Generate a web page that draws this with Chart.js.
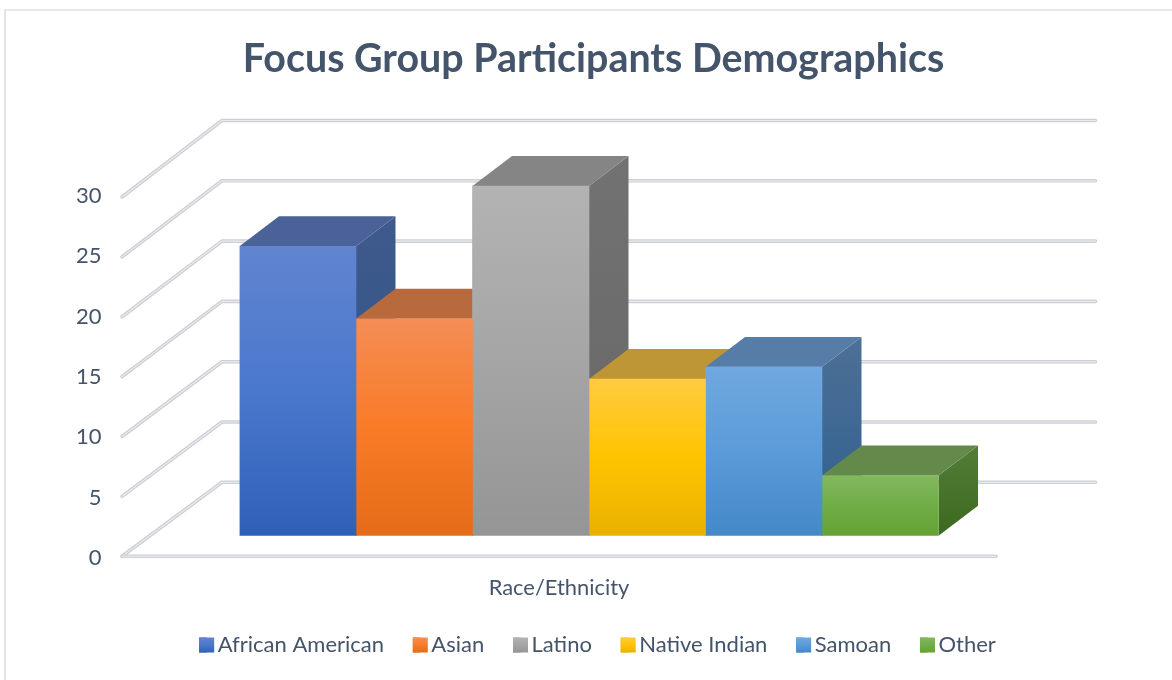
<!DOCTYPE html>
<html>
<head>
<meta charset="utf-8">
<title>Focus Group Participants Demographics</title>
<script src="https://cdn.jsdelivr.net/npm/chart.js@4"></script>
<style>
  html, body { margin: 0; padding: 0; background: #fff; overflow: hidden; }
  #frame { position: absolute; left: 4px; top: 9px; width: 1200px; height: 700px;
           border-left: 2px solid #e1e4ee; border-top: 2px solid #e6e8f0; pointer-events: none; }
  canvas { display: block; }
</style>
</head>
<body>
<canvas id="chart" width="1172" height="680"></canvas>
<div id="frame"></div>
<script>
// Data
const categories = ['Race/Ethnicity'];
const seriesNames = ['African American', 'Asian', 'Latino', 'Native Indian', 'Samoan', 'Other'];
const seriesValues = [24, 18, 29, 13, 14, 5];
const valueTicks = [0, 5, 10, 15, 20, 25, 30];

// Colours: front face gradient (top, middle, bottom), top face, side face (top, bottom)
const frontColors = [
  ['#6184d0', '#4a78cd', '#2f60b8'],
  ['#f48d55', '#f97b27', '#e46c18'],
  ['#b3b3b3', '#a5a5a5', '#959595'],
  ['#ffcb40', '#ffc400', '#e9b100'],
  ['#70a8e0', '#5b9bd9', '#4488c8'],
  ['#82b85e', '#70ad47', '#64a233']
];
const topColors = ['#4a6298', '#b86a3d', '#858585', '#bf9635', '#557da8', '#638a4a'];
const sideColors = [
  ['#3f5a8c', '#2f5288'],
  ['#a85a2c', '#9a4f20'],
  ['#727272', '#666666'],
  ['#a8842a', '#97761c'],
  ['#4d7096', '#2e5f90'],
  ['#527d37', '#3c691f']
];
const textColor = '#44546a';
const bodyFont = 'Lato, sans-serif';

// 3D look: offsets from the bar plane
const BAR_DEPTH = { x: 39.5, y: -30 };
const GRID_FRONT = { x: -117.5, y: 20.5, right: 57.5 };
const GRID_BACK = { x: -17.5, y: -53.5, right: 157 };
const FRONT_SHRINK = 0.0069;

function verticalGradient(ctx, top, bottom, stops) {
  const g = ctx.createLinearGradient(0, top, 0, bottom);
  stops.forEach((c, i) => g.addColorStop(i / (stops.length - 1), c));
  return g;
}

function gridStroke(ctx, points) {
  ctx.beginPath();
  points.forEach((p, i) => (i ? ctx.lineTo(p[0], p[1]) : ctx.moveTo(p[0], p[1])));
  ctx.lineJoin = 'round';
  ctx.lineCap = 'round';
  ctx.lineWidth = 3.6;
  ctx.strokeStyle = '#cdcfd5';
  ctx.stroke();
  ctx.lineWidth = 1.2;
  ctx.strokeStyle = '#e9eaed';
  ctx.stroke();
}

// back wall lines and the slanted lines on the side wall
const walls3d = {
  id: 'walls3d',
  afterLayout(chart) {
    // the right padding keeps the plot narrow, title and legend still use the full width
    chart.titleBlock.left = 7.5;
    chart.titleBlock.right = chart.width + 7.5;
    chart.legend.left = 11.5;
    chart.legend.right = chart.width + 11.5;
    chart.legend.top -= 14;
    chart.legend.bottom -= 14;
  },
  beforeDatasetsDraw(chart) {
    const { ctx, chartArea, scales } = chart;
    ctx.save();
    scales.y.ticks.forEach(t => {
      const py = scales.y.getPixelForValue(t.value);
      const frontY = py + GRID_FRONT.y + (chartArea.bottom - py) * FRONT_SHRINK;
      const backY = py + GRID_BACK.y;
      const pts = [
        [chartArea.left + GRID_FRONT.x, frontY],
        [chartArea.left + GRID_BACK.x, backY],
        [chartArea.right + GRID_BACK.right, backY]
      ];
      gridStroke(ctx, pts);
    });
    const floorY = scales.y.getPixelForValue(0) + GRID_FRONT.y;
    gridStroke(ctx, [
      [chartArea.left + GRID_FRONT.x, floorY],
      [chartArea.right + GRID_FRONT.right, floorY]
    ]);

    // top and side faces, left to right so later bars cover earlier ones
    chart.getSortedVisibleDatasetMetas().forEach((meta, i) => {
      const bar = meta.data[0];
      const left = bar.x - bar.width / 2;
      const right = bar.x + bar.width / 2;
      const topY = bar.y;
      const baseY = bar.base;
      const dx = BAR_DEPTH.x, dy = BAR_DEPTH.y;
      ctx.fillStyle = verticalGradient(ctx, topY + dy, baseY, sideColors[i]);
      ctx.beginPath();
      ctx.moveTo(right, topY);
      ctx.lineTo(right + dx, topY + dy);
      ctx.lineTo(right + dx, baseY + dy);
      ctx.lineTo(right, baseY);
      ctx.closePath();
      ctx.fill();
      ctx.fillStyle = topColors[i];
      ctx.beginPath();
      ctx.moveTo(left, topY);
      ctx.lineTo(left + dx, topY + dy);
      ctx.lineTo(right + dx, topY + dy);
      ctx.lineTo(right, topY);
      ctx.closePath();
      ctx.fill();
    });
    ctx.restore();
  },
  afterDraw(chart) {
    // legend swatches are a little wider than the box the legend lays out
    const { ctx, legend } = chart;
    ctx.save();
    legend.legendHitBoxes.forEach((box, i) => {
      const midY = box.top + box.height / 2;
      const y0 = midY - 7.5, y1 = midY + 7.5;
      ctx.fillStyle = verticalGradient(ctx, y0, y1, frontColors[i]);
      ctx.fillRect(box.left, y0, 15, 15);
    });
    ctx.restore();
  }
};

function frontFill(i) {
  return function(context) {
    const chart = context.chart;
    if (!chart.chartArea || context.parsed === undefined) return frontColors[i][1];
    const top = chart.scales.y.getPixelForValue(context.parsed.y);
    const bottom = chart.scales.y.getPixelForValue(0);
    return verticalGradient(chart.ctx, top, bottom, frontColors[i]);
  };
}

const datasets = seriesNames.map((name, i) => ({
  label: name,
  data: [seriesValues[i]],
  backgroundColor: frontFill(i),
  borderWidth: 0
}));

new Chart(document.getElementById('chart'), {
  type: 'bar',
  data: { labels: categories, datasets: datasets },
  plugins: [walls3d],
  options: {
    responsive: false,
    animation: false,
    layout: { padding: { left: 0, right: 233.5, top: 0, bottom: 0 } },
    datasets: { bar: { barPercentage: 1, categoryPercentage: 1 } },
    plugins: {
      tooltip: { enabled: false },
      title: {
        display: true,
        text: 'Focus Group Participants Demographics',
        color: textColor,
        font: { family: bodyFont, size: 39.4, weight: 'bold', lineHeight: 1.2 },
        padding: { top: 35.5, bottom: 91.2 }
      },
      legend: {
        position: 'bottom',
        labels: {
          boxWidth: 7.5,
          boxHeight: 15,
          padding: 28.8,
          color: textColor,
          font: { family: bodyFont, size: 22 }
        }
      }
    },
    scales: {
      x: {
        grid: { display: false, drawTicks: false },
        border: { display: false },
        afterFit(axis) { axis.height = 83.4; },
        ticks: { color: textColor, font: { family: bodyFont, size: 21.9 }, padding: 38.5, labelOffset: -30 }
      },
      y: {
        min: 0,
        max: 30,
        grid: { display: false, drawTicks: false },
        border: { display: false },
        afterFit(axis) {
          axis.width = 239.5;
          // the big tick padding would otherwise also be reserved under the plot
          axis.paddingTop = 0;
          axis.paddingBottom = 0;
        },
        afterBuildTicks(axis) { axis.ticks = valueTicks.map(v => ({ value: v })); },
        ticks: { color: textColor, font: { family: bodyFont, size: 22 }, padding: 138, labelOffset: 22 }
      }
    }
  }
});
</script>
</body>
</html>
